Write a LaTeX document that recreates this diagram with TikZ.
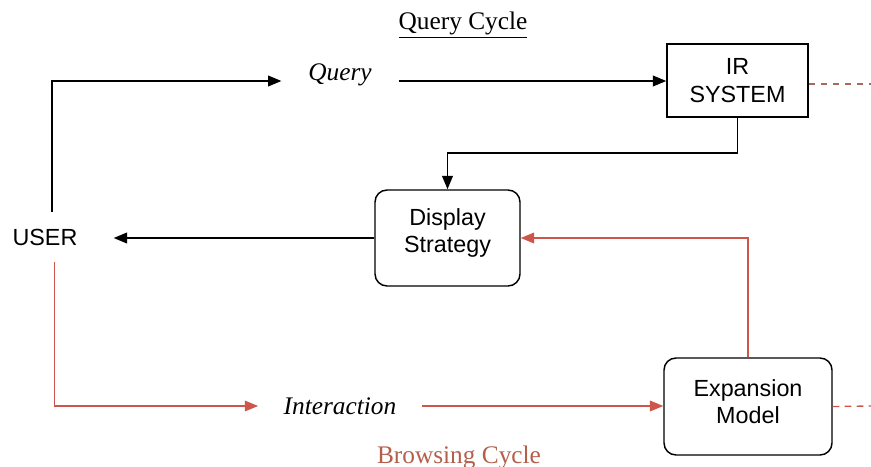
\documentclass[tikz,border=0pt]{standalone}
\usepackage{fontspec}
\setmainfont{Liberation Serif}
\setsansfont{Liberation Sans}
\usepackage{tikz}
\usetikzlibrary{arrows.meta, positioning}
\definecolor{browse}{RGB}{205,85,75}
\definecolor{browsetext}{RGB}{180,95,75}
\definecolor{linkdash}{RGB}{165,105,95}

\begin{document}
\begin{tikzpicture}[x=0.75pt, y=-0.75pt,
		flow/.style={line width=1.25pt, -{Triangle[length=10pt, width=8pt]}},
		browseflow/.style={line width=1pt, draw=browse, -{Triangle[length=10pt, width=8pt, fill=browse]}},
		sqbox/.style={draw, line width=1.1pt, font=\sffamily\fontsize{17.5}{20.5}\selectfont, align=center, inner sep=0pt},
		rdbox/.style={sqbox, rounded corners=9pt},
		lbl/.style={font=\itshape\fontsize{19}{22}\selectfont, inner ysep=0pt},
		outlink/.style={line width=1pt, dash pattern=on 5pt off 4pt}]
	\useasboundingbox (0,0) rectangle (871,467);
	% boxes
	\node[sqbox, minimum width=105.75pt, minimum height=54.75pt] (ir) at (737.5,80.5) {IR\\SYSTEM};
	\node[rdbox, minimum width=108.75pt, minimum height=72pt, text depth=11pt] (display) at (447.5,238) {Display\\Strategy};
	\node[rdbox, minimum width=126pt, minimum height=72.75pt, text depth=7.5pt] (expansion) at (748,406.5) {Expansion\\Model};
	\node[font=\sffamily\fontsize{17.5}{20.5}\selectfont, inner xsep=27pt, inner ysep=12.5pt] (user) at (45,237) {USER};
	% labels on the cycles
	\node[lbl, inner xsep=20pt, anchor=base] (query) at (340,81) {Query};
	\node[lbl, inner xsep=19pt] (interaction) at (340,406) {Interaction};
	\node[font=\fontsize{19}{22}\selectfont] (qcycle) at (463,25) {\underline{Query Cycle}};
	\node[font=\fontsize{19}{22}\selectfont, text=browsetext] (bcycle) at (459,457) {Browsing Cycle};
	\coordinate (irout) at (871,84);
	\coordinate (expout) at (871,406);
	% query cycle
	\draw[flow] ([xshift=5]user.north) |- (query.base west);
	\draw[flow] (query.base east) -- (query.base east -| ir.west);
	\draw[flow] (ir.south) -- ++(0,35) -| (display.north);
	\draw[flow] (display.west) -- (display.west -| user.east);
	% browsing cycle
	\draw[browseflow] ([xshift=7]user.south) |- (interaction.west);
	\draw[browseflow] (interaction.east) -- (interaction.east -| expansion.west);
	\draw[browseflow] (expansion.north) |- (display.east);
	% links off the page
	\draw[outlink, linkdash] (ir.east |- irout) -- (irout);
	\draw[outlink, browse] (expansion.east) -- (expout);
\end{tikzpicture}
\end{document}
